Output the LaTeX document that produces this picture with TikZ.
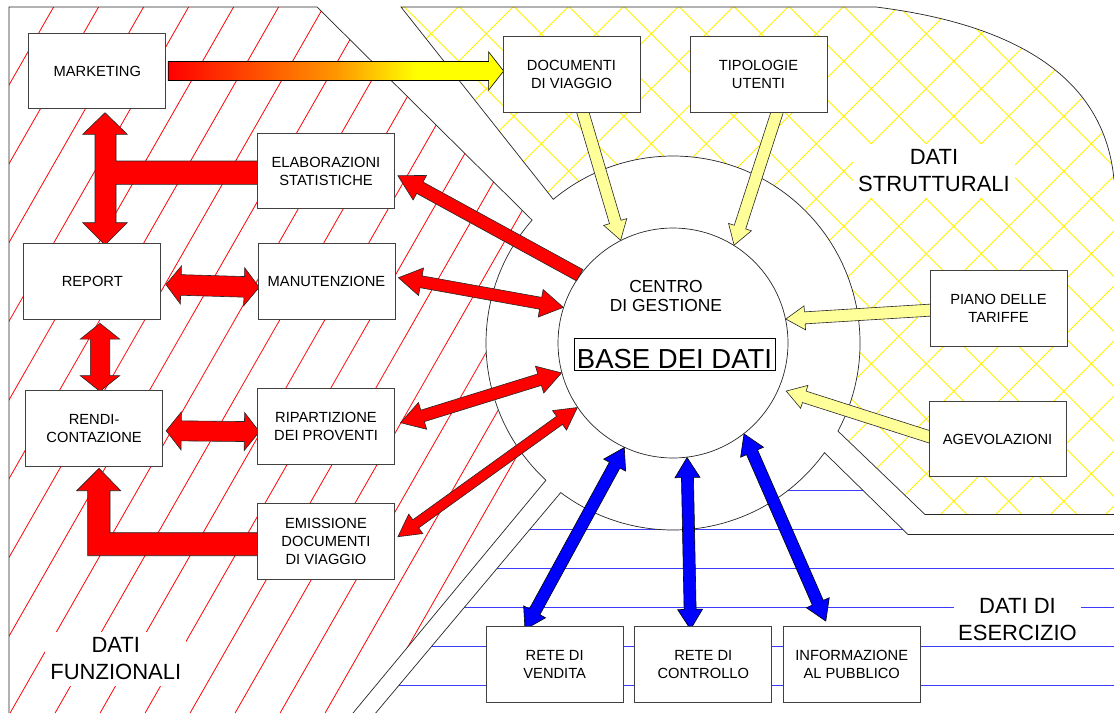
\documentclass[tikz,border=0pt]{standalone}
\usepackage{fontspec}
\setmainfont{Liberation Sans}
\usetikzlibrary{calc}
\definecolor{lightyel}{RGB}{255,255,153}
\definecolor{hatchblue}{RGB}{60,60,255}
\definecolor{midorange}{RGB}{255,150,0}
\pgfdeclarehorizontalshading{redyellow}{100bp}{color(0bp)=(red); color(25bp)=(red); color(50bp)=(midorange); color(62bp)=(yellow); color(100bp)=(yellow)}
\pgfdeclarelayer{back}
\pgfdeclarelayer{mid}
\pgfsetlayers{back,mid,main}
% double block arrow: style, A, B, shaft half width, head half width, head length
\newcommand{\blockdbl}[6]{%
  \coordinate (dqa) at ($#2!#6!#3$);
  \coordinate (dqb) at ($#3!#6!#2$);
  \draw[#1] #2 -- ($(dqa)!#5!90:#3$) -- ($(dqa)!#4!90:#3$) -- ($(dqb)!#4!-90:#2$) -- ($(dqb)!#5!-90:#2$) -- #3 -- ($(dqb)!#5!90:#2$) -- ($(dqb)!#4!90:#2$) -- ($(dqa)!#4!-90:#3$) -- ($(dqa)!#5!-90:#3$) -- cycle;}
% single block arrow, head at B
\newcommand{\blocksgl}[6]{%
  \coordinate (dqb) at ($#3!#6!#2$);
  \draw[#1] ($#2!#4!90:#3$) -- ($(dqb)!#4!-90:#2$) -- ($(dqb)!#5!-90:#2$) -- #3 -- ($(dqb)!#5!90:#2$) -- ($(dqb)!#4!90:#2$) -- ($#2!#4!-90:#3$) -- cycle;}
\tikzset{
  box/.style={draw=black!75, line width=0.8pt, fill=white, minimum width=137, minimum height=75.5, inner sep=0pt, align=center, font=\fontsize{14.7}{18}\selectfont},
  redarr/.style={fill=red, draw=black!85, line width=0.6pt},
  yelarr/.style={fill=lightyel, draw=black!85, line width=0.6pt},
  bluarr/.style={fill=blue, draw=black, line width=0.6pt},
  gradarr/.style={shade, shading=redyellow, draw=black, line width=0.6pt},
  regionline/.style={draw=black!85, line width=0.7pt},
  lbl/.style={fill=white, align=center, font=\fontsize{22}{27}\selectfont, inner xsep=5pt, inner ysep=6pt},
  rhatch/.style={red, line width=0.8pt},
  yhatch/.style={yellow, line width=0.8pt},
  bhatch/.style={hatchblue, line width=0.9pt},
}
\def\funzregion{(9,7) -- (317,7) -- ($(673,343)+(221.1:187)$) arc[start angle=221.1, end angle=132.8, radius=187] -- (353,713) -- (9,713) -- cycle}
\def\strutregion{(401,7) -- (876,7) .. controls (1020,25) and (1105,80) .. (1114,180) -- (1114,514.5) -- (925,514.5) -- ($(673,343)+(28.1:187)$) arc[start angle=28.1, end angle=-129.8, radius=187] -- cycle}
\def\esercregion{(1114,534.5) -- (908,534.5) -- ($(673,343)+(35.9:187)$) arc[start angle=35.9, end angle=126.9, radius=187] -- (375.7,713) -- (1114,713) -- cycle}
\begin{document}
\begin{tikzpicture}[x=1pt,y=-1pt]
\useasboundingbox (0,0) rectangle (1114,713);
\begin{pgfonlayer}{back}
\fill[white] (0,0) rectangle (1114,713);
% hatching
\begin{scope}
  \clip \funzregion;
  \foreach \i in {0,...,21} \draw[rhatch] ({12.6+45*\i},0) -- ({12.6+45*\i-407.5},713);
\end{scope}
\begin{scope}
  \clip \strutregion;
  \foreach \i in {-3,...,20} \draw[yhatch] ({12.5+55*\i},0) -- ({12.5+55*\i+713},713);
  \foreach \i in {7,...,30} \draw[yhatch] ({25+55*\i},0) -- ({25+55*\i-713},713);
\end{scope}
\begin{scope}
  \clip \esercregion;
  \foreach \yy in {490,529,568,607,646,685} \draw[bhatch] (300,\yy) -- (1114,\yy);
\end{scope}
% region outlines
\draw[regionline] (9,713) -- (9,7) -- (317,7) -- ($(673,343)+(221.1:187)$) arc[start angle=221.1, end angle=132.8, radius=187] -- (353,713);
\draw[regionline] (1114,514.5) -- (925,514.5) -- ($(673,343)+(28.1:187)$) arc[start angle=28.1, end angle=-129.8, radius=187] -- (401,7) -- (876,7) .. controls (1020,25) and (1105,80) .. (1114,180);
\draw[regionline] (1114,534.5) -- (908,534.5) -- ($(673,343)+(35.9:187)$) arc[start angle=35.9, end angle=126.9, radius=187] -- (375.7,713);
% region labels
\node[lbl] (lstrut) at (934,171) {DATI\\STRUTTURALI};
\node[lbl] (lfunz) at (115.8,659) {DATI\\FUNZIONALI};
\node[lbl, inner ysep=3pt, inner xsep=4pt] (leserc) at (1017.5,620) {DATI DI\\ESERCIZIO};
% central circle
\node[circle, draw=black!85, line width=0.7pt, fill=white, minimum size=230, inner sep=0pt] (db) at (673,343) {};
\end{pgfonlayer}

% boxes
\node[box] (mkt) at (97.3,71) {MARKETING};
\node[box] (elab) at (326,171) {ELABORAZIONI\\STATISTICHE};
\node[box] (rep) at (92.3,281.5) {REPORT};
\node[box] (manut) at (326.5,281.5) {MANUTENZIONE};
\node[box] (rendi) at (94.1,428.5) {RENDI-\\CONTAZIONE};
\node[box] (ripart) at (326,426.5) {RIPARTIZIONE\\DEI PROVENTI};
\node[box] (emiss) at (326,541.5) {EMISSIONE\\DOCUMENTI\\DI VIAGGIO};
\node[box] (doc) at (571.5,74.3) {DOCUMENTI\\DI VIAGGIO};
\node[box] (tip) at (758.5,74.3) {TIPOLOGIE\\UTENTI};
\node[box] (piano) at (998.5,308.3) {PIANO DELLE\\TARIFFE};
\node[box] (agev) at (997.5,439) {AGEVOLAZIONI};
\node[box] (vend) at (554.7,664.5) {RETE DI\\VENDITA};
\node[box] (contr) at (703.3,664.5) {RETE DI\\CONTROLLO};
\node[box] (info) at (851.7,664.5) {INFORMAZIONE\\AL PUBBLICO};
% centre texts
\node[font=\fontsize{17.4}{19}\selectfont, align=center, inner sep=0pt] (cg) at (666,296.2) {CENTRO\\DI GESTIONE};
\node[draw=black, line width=0.8pt, minimum width=201.4, minimum height=31.7, inner sep=0pt] (bdd) at (675,354.2) {};
\node[anchor=base, font=\fontsize{27.5}{30}\selectfont, inner sep=0pt] (bddtext) at (674.5,368.3) {BASE DEI DATI};

\begin{pgfonlayer}{mid}
% gradient arrow
\coordinate (g1) at ($(mkt.east)+(2,0)$);
\coordinate (g2) at ($(doc.west)+(1,-3.3)$);
\blocksgl{gradarr}{(g1)}{(g2)}{9.5pt}{19.2pt}{15pt}
% left block arrows
\draw[redarr] (105,112.7) -- (127.3,134.3) -- (116,134.3) -- (116,161) -- (258.5,161) -- (258.5,184.3) -- (116,184.3) -- (116,222.7) -- (127.3,222.7) -- (105,245) -- (82.7,222.7) -- (95,222.7) -- (95,134.3) -- (82.7,134.3) -- cycle;
\draw[redarr] (99,468.3) -- (120.7,490.7) -- (110,490.7) -- (110,532.7) -- (258.5,532.7) -- (258.5,555.7) -- (87.7,555.7) -- (87.7,490.7) -- (76.7,490.7) -- cycle;
\coordinate (rr1) at ($(rep.south)+(7.7,3.7)$);
\coordinate (rr2) at ($(rendi.north)+(5.9,1)$);
\blockdbl{redarr}{(rr1)}{(rr2)}{9.7pt}{19.7pt}{15.7pt}
\coordinate (rm1) at ($(rep.east)+(4.7,3)$);
\coordinate (rm2) at ($(manut.west)+(1.6,5.8)$);
\blockdbl{redarr}{(rm1)}{(rm2)}{10.3pt}{19pt}{15pt}
\coordinate (rp1) at ($(rendi.east)+(3.2,2.2)$);
\coordinate (rp2) at ($(ripart.west)+(2.3,5.2)$);
\blockdbl{redarr}{(rp1)}{(rp2)}{10pt}{19pt}{15pt}
% red diagonal arrows
\coordinate (e1) at (db.144);
\coordinate (e2) at ($(elab.east)+(3,4.7)$);
\blocksgl{redarr}{(e1)}{(e2)}{6.5pt}{14pt}{25pt}
\coordinate (m1) at ($(manut.east)+(3,-3.8)$);
\coordinate (m2) at (db.162);
\blockdbl{redarr}{(m1)}{(m2)}{6pt}{14pt}{23pt}
\coordinate (p1) at ($(ripart.east)+(5.7,-3.8)$);
\coordinate (p2) at (db.195);
\blockdbl{redarr}{(p1)}{(p2)}{6pt}{14pt}{23pt}
\coordinate (s1) at ($(emiss.east)+(3,-4.8)$);
\coordinate (s2) at (db.214);
\blockdbl{redarr}{(s1)}{(s2)}{5pt}{12pt}{22pt}
% yellow arrows
\coordinate (y1) at ($(doc.south)+(10.5,-3)$);
\coordinate (y2) at (db.117);
\blocksgl{yelarr}{(y1)}{(y2)}{6pt}{12pt}{19pt}
\coordinate (t1) at ($(tip.south)+(19.5,-3)$);
\coordinate (t2) at (db.58);
\blocksgl{yelarr}{(t1)}{(t2)}{6pt}{12pt}{19pt}
\coordinate (pt1) at ($(piano.west)+(3,1.7)$);
\coordinate (pt2) at (db.12);
\blocksgl{yelarr}{(pt1)}{(pt2)}{6pt}{12pt}{19pt}
\coordinate (a1) at ($(agev.west)+(3,-1.5)$);
\coordinate (a2) at ($(db.337)+(7,3)$);
\blocksgl{yelarr}{(a1)}{(a2)}{6pt}{12pt}{19pt}
% blue arrows
\coordinate (v1) at ($(vend.north)+(-29.7,3)$);
\coordinate (v2) at (db.245);
\blockdbl{bluarr}{(v1)}{(v2)}{6pt}{12.5pt}{20pt}
\coordinate (c1) at ($(contr.north)+(-12.8,3)$);
\coordinate (c2) at (db.277);
\blockdbl{bluarr}{(c1)}{(c2)}{6pt}{12.5pt}{20pt}
\coordinate (i1) at ($(info.north)+(-25.9,-5.3)$);
\coordinate (i2) at (db.308);
\blockdbl{bluarr}{(i1)}{(i2)}{6pt}{12.5pt}{20pt}
\end{pgfonlayer}
\end{tikzpicture}
\end{document}
